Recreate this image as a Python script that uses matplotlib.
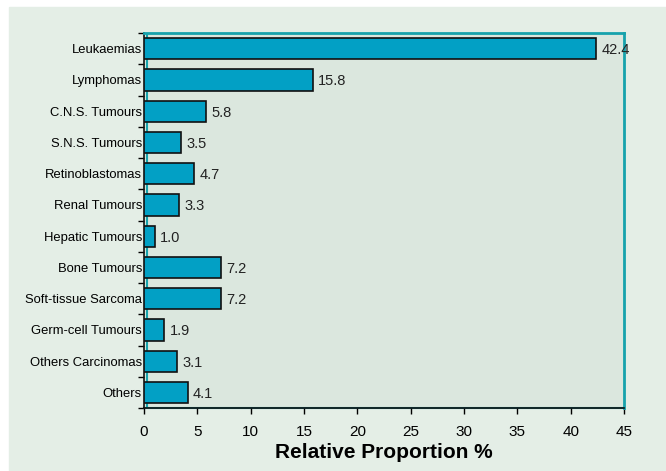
import matplotlib.pyplot as plt
import numpy as np

categories = ['Leukaemias', 'Lymphomas', 'C.N.S. Tumours', 'S.N.S. Tumours',
              'Retinoblastomas', 'Renal Tumours', 'Hepatic Tumours', 'Bone Tumours',
              'Soft-tissue Sarcoma', 'Germ-cell Tumours', 'Others Carcinomas', 'Others']
values = [42.4, 15.8, 5.8, 3.5, 4.7, 3.3, 1.0, 7.2, 7.2, 1.9, 3.1, 4.1]
xticks = [0, 5, 10, 15, 20, 25, 30, 35, 40, 45]

plt.rcParams['font.family'] = ['Liberation Sans', 'DejaVu Sans']

fig = plt.figure(figsize=(6.66, 4.71), dpi=100)
fig.patch.set_facecolor('white')
# light green panel behind the chart
fig.patches.append(plt.Rectangle((9/666, 0), 1 - 9/666, 1 - 7/471,
                                 transform=fig.transFigure, color='#e4eee6', zorder=-10))

ax = fig.add_axes([144/666, 1 - 408/471, 480/666, 375/471])
ax.set_facecolor('#dbe7de')

y = np.arange(len(categories))
ax.barh(y, values, height=0.68, color='#02a0c5', edgecolor='#111111', linewidth=1.2, zorder=3)
for yi, v in zip(y, values):
    ax.text(v + 0.5, yi + 0.05, f'{v:.1f}', va='center', ha='left', fontsize=10.5,
            color='#222222', zorder=5)

ax.set_xlim(0, 45)
ax.set_ylim(len(categories) - 0.5, -0.5)
ax.set_xticks(xticks)
ax.set_xticklabels([str(t) for t in xticks], fontsize=11)
ax.set_yticks(y)
ax.set_yticklabels(categories, fontsize=9.4)
ax.set_yticks(np.arange(-0.5, len(categories)), minor=True)
ax.tick_params(axis='y', which='major', length=0, pad=1.5)
ax.tick_params(axis='y', which='minor', length=4, width=1, direction='out')
ax.tick_params(axis='x', length=4, width=1, direction='out', pad=8)
ax.set_xlabel('Relative Proportion %', fontsize=15, fontweight='bold', labelpad=3)

for s in ['top', 'right']:
    ax.spines[s].set_color('#16a2ac')
    ax.spines[s].set_linewidth(2)
for s in ['left', 'bottom']:
    ax.spines[s].set_color('#111111')
    ax.spines[s].set_linewidth(1.2)
# teal inner shadow line along left and bottom
ax.axvline(0.25, color='#16a2ac', linewidth=1.5, zorder=2)
ax.plot([0, 45], [len(categories) - 0.5, len(categories) - 0.5], color='#16a2ac',
        linewidth=1.5, transform=ax.transData, clip_on=False, zorder=1)

fig.savefig('out.png', dpi=100)
